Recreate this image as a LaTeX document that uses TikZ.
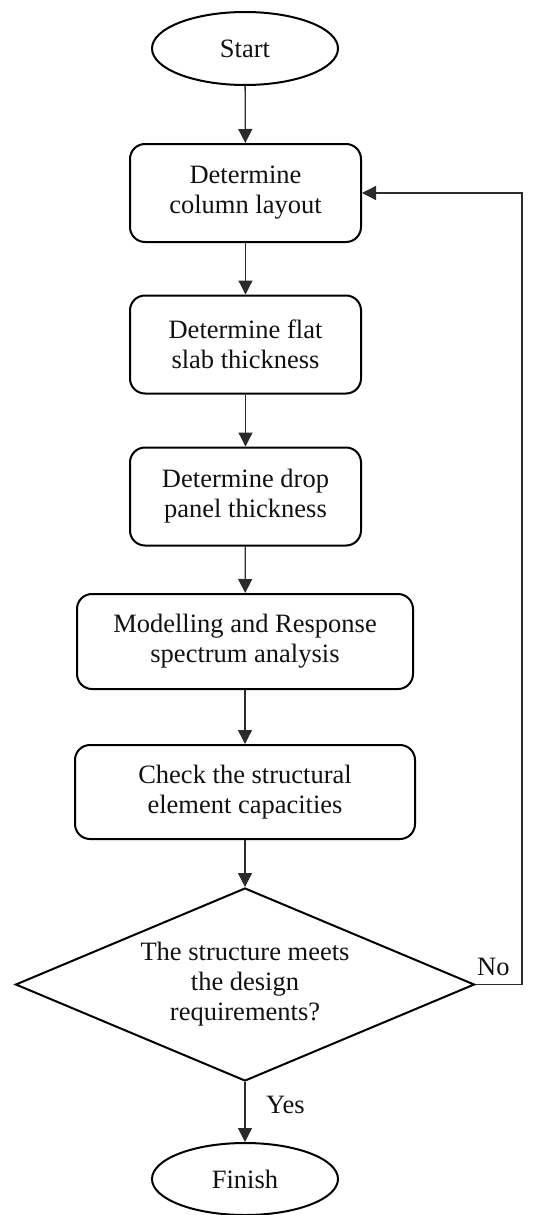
\documentclass[tikz,border=0pt]{standalone}
\usepackage{fontspec}
\setmainfont{Liberation Serif}
\usetikzlibrary{shapes.geometric,arrows.meta}
\definecolor{linegray}{HTML}{2B2B2B}
\definecolor{txt}{HTML}{111111}
\begin{document}
\begin{tikzpicture}[x=1pt,y=-1pt,
  every node/.style={font=\fontsize{26.5}{30}\selectfont, text=txt},
  terminal/.style={ellipse, draw=black, line width=2pt, minimum width=186pt, minimum height=73pt, inner sep=0pt},
  procbox/.style={rectangle, rounded corners=15pt, draw=black, line width=2pt, minimum height=98pt, align=center, inner sep=0pt},
  decision/.style={diamond, aspect=2.38, draw=black, line width=2pt, minimum width=459pt, minimum height=193pt, inner sep=0pt, align=center},
  flow/.style={draw=linegray, line width=1.3pt, -{Triangle[length=14pt,width=14pt]}},
  lbl/.style={inner sep=0pt}
]
\useasboundingbox (0,0) rectangle (542,1215);
\node[terminal] (start) at (245,48.5) {Start};
\node[procbox, minimum width=231pt] (b1) at (245.5,193) {Determine\\column layout};
\node[procbox, minimum width=231pt] (b2) at (245.5,344.5) {Determine flat\\slab thickness};
\node[procbox, minimum width=231pt] (b3) at (245.5,496.5) {Determine drop\\panel thickness};
\node[procbox, minimum width=336pt, minimum height=95pt] (b4) at (245,641.5) {Modelling and Response\\spectrum analysis};
\node[procbox, minimum width=340pt, minimum height=94pt] (b5) at (245,792) {Check the structural\\element capacities};
\node[decision] (dec) at (245,984.5) {The structure meets\\the design\\requirements?};
\node[terminal, minimum height=72pt] (finish) at (245,1179) {Finish};
\coordinate (c1) at (522,984.5);
\coordinate (c2) at (522,193);
\draw[flow] (start) -- (b1);
\draw[flow] (b1) -- (b2);
\draw[flow] (b2) -- (b3);
\draw[flow] (b3) -- (b4);
\draw[flow] (b4) -- (b5);
\draw[flow] (b5) -- (dec.north);
\draw[flow] (dec.south) -- (finish);
\draw[flow] (dec.east) -- (c1) -- (c2) -- (b1.east);
\node[lbl, anchor=base west] (yes) at (266,1113) {Yes};
\node[lbl, anchor=base west] (no) at (477,975) {No};
\end{tikzpicture}
\end{document}
